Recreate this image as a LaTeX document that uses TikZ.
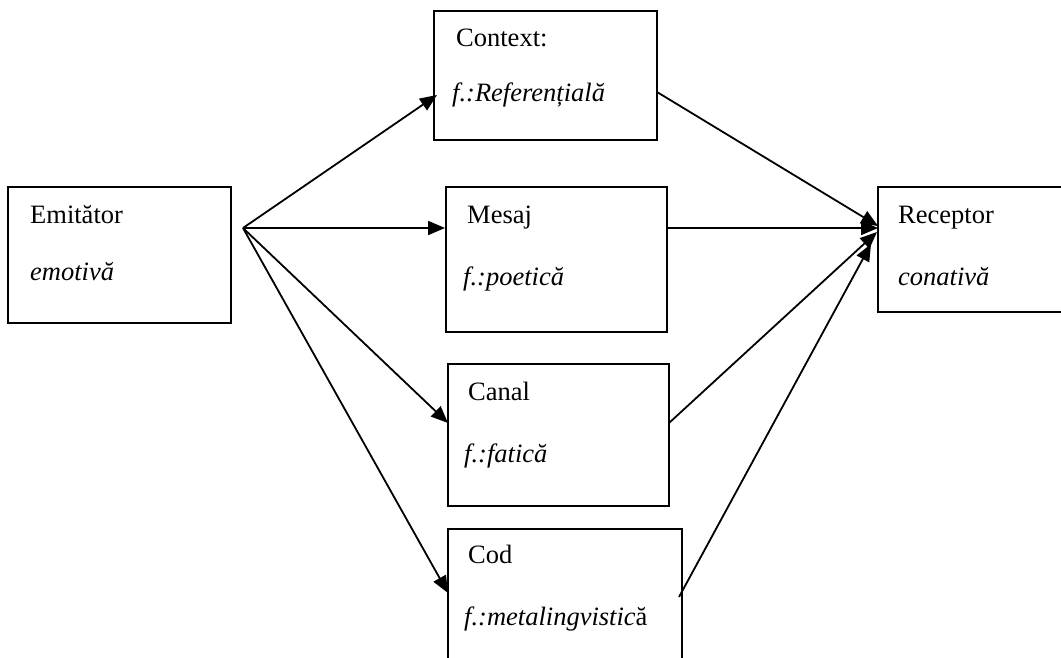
\documentclass[tikz,border=0pt]{standalone}
\usepackage{fontspec}
\setmainfont{Liberation Serif}
\usetikzlibrary{arrows.meta}
\begin{document}
\begin{tikzpicture}[x=1pt,y=-1pt,
  box/.style={draw=black,line width=1.8pt,inner sep=0pt,outer sep=0pt,anchor=north west},
  lbl/.style={anchor=base west,inner sep=0pt,font=\fontsize{26.5}{31}\selectfont},
  arr/.style={line width=1.8pt,-{Triangle[length=17pt,width=14pt]}}]
\useasboundingbox (0,0) rectangle (1061,658);
\clip (0,0) rectangle (1061,658);
% boxes
\node[box,minimum width=223pt,minimum height=136pt] (emit) at (8,187) {};
\node[box,minimum width=223pt,minimum height=129pt] (ctx) at (434,11) {};
\node[box,minimum width=221pt,minimum height=145pt] (mes) at (446,187) {};
\node[box,minimum width=221pt,minimum height=142pt] (can) at (448,364) {};
\node[box,minimum width=234pt,minimum height=150pt] (cod) at (448,529) {};
\node[box,minimum width=220pt,minimum height=125pt] (rec) at (878,187) {};
% texts
\node[lbl] (t1) at (30,223) {Emitător};
\node[lbl] (t2) at (30,280) {\itshape emotivă};
\node[lbl] (t3) at (456,47) {Context:};
\node[lbl] (t4) at (452,102) {\itshape f.:Referențială};
\node[lbl] (t5) at (467,223) {Mesaj};
\node[lbl] (t6) at (463,285) {\itshape f.:poetică};
\node[lbl] (t7) at (468,400) {Canal};
\node[lbl] (t8) at (464,462) {\itshape f.:fatică};
\node[lbl] (t9) at (468,563) {Cod};
\node[lbl] (t10) at (464,625) {{\itshape f.:metalingvistic}ă};
\node[lbl] (t11) at (898,223) {Receptor};
\node[lbl] (t12) at (898,285) {\itshape conativă};
% connector points
\coordinate (fan) at (243,228);
\coordinate (ctxin) at (437,95);
\coordinate (mesin) at (445,228);
\coordinate (canin) at (448,423);
\coordinate (codin) at (448,593);
\coordinate (ctxout) at (657,92);
\coordinate (mesout) at (667,228);
\coordinate (canout) at (669,423);
\coordinate (codout) at (679,597);
\coordinate (r1) at (878,226);
\coordinate (r2) at (878,228);
\coordinate (r3) at (877,232);
\coordinate (r4) at (871,244);
% connectors
\draw[arr] (fan) -- (ctxin);
\draw[arr] (fan) -- (mesin);
\draw[arr] (fan) -- (canin);
\draw[arr] (fan) -- (codin);
\draw[arr] (ctxout) -- (r1);
\draw[arr] (mesout) -- (r2);
\draw[arr] (canout) -- (r3);
\draw[arr] (codout) -- (r4);
\end{tikzpicture}
\end{document}
